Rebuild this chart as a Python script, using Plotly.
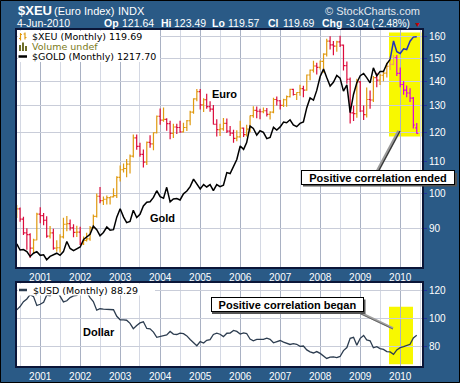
import pandas as pd
import plotly.graph_objects as go

# ---------------- data (monthly, Jun-2000 .. Jun-2010) ----------------
start_month = "2000-06-01"
end_month = "2010-06-01"

xeu_open = [93.5, 95.4, 92.5, 88.8, 88.3, 84.8, 86.9,
            93.9, 93.5, 92.2, 87.9, 88.8, 84.8, 84.9, 87.7, 91.1, 91.3, 90.1, 88.9,
            89.0, 85.9, 86.8, 87.2, 90.2, 93.3, 99.1, 97.8, 98.2, 98.7, 98.9, 99.3,
            104.9, 107.3, 107.7, 109.1, 111.8, 118.1, 115.1, 112.4, 109.8, 116.5, 116.0, 119.9,
            126.0, 124.5, 124.8, 123.2, 119.7, 122.0, 121.8, 120.2, 121.8, 124.3, 127.6, 132.7,
            135.7, 130.4, 132.4, 129.7, 128.7, 123.0, 121.0, 121.3, 123.3, 120.5, 119.8, 117.9,
            118.4, 121.6, 119.2, 121.2, 126.2, 128.2, 127.9, 127.7, 128.1, 126.7, 127.6, 132.5,
            132.0, 130.2, 132.4, 133.6, 136.6, 134.5, 135.3, 136.9, 136.3, 142.6, 144.7, 146.5,
            145.9, 148.6, 151.8, 157.9, 156.1, 155.5, 157.5, 156.0, 146.7, 140.8, 127.3, 127.0,
            139.7, 128.0, 126.6, 132.5, 132.3, 141.5, 140.4, 142.5, 143.4, 146.4, 147.2, 150.2,
            143.3, 138.6, 136.3, 135.1, 133.0, 121.64]
xeu_high = [96.5, 95.8, 93.2, 90.0, 88.7, 87.2, 94.3,
            95.9, 94.2, 93.3, 90.6, 89.9, 86.8, 88.4, 92.9, 93.4, 92.4, 91.1, 90.7,
            90.4, 87.8, 88.8, 90.6, 93.8, 99.9, 101.9, 99.0, 99.3, 98.9, 101.5, 105.2,
            108.7, 109.3, 110.8, 112.3, 119.3, 119.3, 116.4, 114.0, 116.8, 119.0, 120.1, 126.3,
            129.0, 129.3, 125.2, 124.3, 123.2, 123.2, 124.3, 123.6, 124.6, 128.1, 133.0, 136.7,
            136.7, 133.0, 134.8, 131.8, 130.3, 124.9, 123.2, 125.3, 125.1, 122.4, 121.0, 120.8,
            124.3, 121.8, 122.8, 126.3, 129.8, 129.7, 128.9, 129.3, 129.2, 127.9, 133.2, 133.7,
            132.3, 132.8, 134.1, 136.8, 136.8, 135.4, 138.5, 138.1, 142.8, 145.0, 148.8, 148.0,
            149.0, 152.2, 159.0, 160.2, 157.9, 158.1, 160.4, 156.3, 148.5, 141.5, 130.0, 141.0,
            140.1, 130.1, 137.4, 136.1, 142.2, 143.6, 143.0, 144.5, 148.0, 150.9, 151.4, 151.4,
            145.8, 140.0, 138.2, 137.0, 133.5, 123.49]
xeu_low = [92.8, 91.8, 88.2, 84.4, 82.3, 83.5, 86.8,
           91.4, 90.8, 87.5, 87.3, 84.4, 83.9, 83.7, 87.3, 89.2, 89.4, 87.6, 87.7,
           85.6, 85.6, 86.5, 86.7, 89.9, 93.0, 97.0, 96.5, 96.7, 96.7, 98.7, 98.6,
           103.6, 106.4, 104.9, 106.1, 111.3, 113.9, 111.6, 108.0, 108.8, 114.6, 113.8, 119.6,
           122.8, 123.9, 120.6, 117.6, 118.0, 119.5, 119.9, 120.0, 120.5, 122.6, 126.9, 131.8,
           128.6, 127.6, 128.9, 127.7, 122.9, 118.6, 118.7, 120.6, 119.8, 118.7, 116.4, 116.9,
           118.1, 118.4, 118.6, 120.1, 125.4, 125.2, 124.9, 127.1, 125.9, 124.8, 127.1, 130.1,
           128.6, 129.5, 129.6, 133.3, 134.1, 132.3, 134.0, 133.4, 136.0, 140.4, 143.7, 142.8,
           145.0, 143.6, 150.7, 153.9, 151.3, 152.9, 155.1, 144.5, 138.9, 123.3, 124.2, 125.4,
           127.6, 124.6, 125.5, 128.9, 131.5, 137.5, 138.4, 139.9, 141.5, 144.8, 146.8, 142.2,
           137.5, 134.4, 133.4, 131.5, 121.4, 119.57]
xeu_close = [95.4, 92.5, 88.8, 88.3, 84.8, 86.9, 93.9,
             93.5, 92.2, 87.9, 88.8, 84.8, 84.9, 87.7, 91.1, 91.3, 90.1, 88.9, 89.0,
             85.9, 86.8, 87.2, 90.2, 93.3, 99.1, 97.8, 98.2, 98.7, 98.9, 99.3, 104.9,
             107.3, 107.7, 109.1, 111.8, 118.1, 115.1, 112.4, 109.8, 116.5, 116.0, 119.9, 126.0,
             124.5, 124.8, 123.2, 119.7, 122.0, 121.8, 120.2, 121.8, 124.3, 127.6, 132.7, 135.7,
             130.4, 132.4, 129.7, 128.7, 123.0, 121.0, 121.3, 123.3, 120.5, 119.8, 117.9, 118.4,
             121.6, 119.2, 121.2, 126.2, 128.2, 127.9, 127.7, 128.1, 126.7, 127.6, 132.5, 132.0,
             130.2, 132.4, 133.6, 136.6, 134.5, 135.3, 136.9, 136.3, 142.6, 144.7, 146.5, 145.9,
             148.6, 151.8, 157.9, 156.1, 155.5, 157.5, 156.0, 146.7, 140.8, 127.3, 127.0, 139.7,
             128.0, 126.6, 132.5, 132.3, 141.5, 140.4, 142.5, 143.4, 146.4, 147.2, 150.2, 143.3,
             138.6, 136.3, 135.1, 133.0, 122.73, 119.69]

gold_close = [288, 276, 277, 273, 264, 270, 273,
              266, 267, 258, 264, 267, 270, 266, 273, 293, 279, 275, 279,
              282, 297, 302, 308, 326, 318, 305, 312, 324, 317, 318, 347,
              368, 347, 334, 337, 364, 346, 354, 375, 385, 386, 398, 417,
              400, 396, 427, 386, 394, 395, 391, 408, 416, 429, 452, 438,
              422, 435, 428, 435, 417, 435, 429, 433, 473, 470, 495, 518,
              569, 556, 583, 654, 643, 614, 633, 626, 599, 604, 648, 636,
              650, 672, 669, 683, 659, 651, 666, 673, 743, 795, 783, 838,
              923, 972, 916, 864, 887, 930, 913, 834, 871, 718, 816, 884,
              928, 942, 916, 883, 980, 927, 955, 955, 1008, 1040, 1182, 1097,
              1083, 1119, 1113, 1180, 1214, 1217.70]

usd_close = [106.5, 108.9, 112.4, 114.3, 117.4, 116.0, 109.6,
             110.5, 112.0, 117.0, 116.6, 119.4, 120.3, 116.5, 112.2, 113.0, 115.3, 116.5, 116.8,
             119.7, 119.2, 119.1, 115.2, 112.4, 106.3, 107.3, 107.0, 106.9, 106.4, 106.6, 101.9,
             99.4, 99.3, 99.1, 96.9, 93.1, 95.3, 97.2, 98.0, 93.2, 93.0, 90.6, 86.9,
             87.4, 87.6, 88.6, 91.1, 89.2, 88.9, 89.9, 89.5, 87.9, 85.3, 82.8, 80.9,
             83.8, 82.8, 84.8, 85.2, 88.9, 89.8, 89.1, 87.4, 89.8, 89.9, 91.8, 91.1,
             89.2, 90.1, 89.6, 85.7, 84.4, 85.4, 85.4, 85.4, 86.3, 85.5, 83.0, 83.7,
             84.6, 83.5, 82.8, 81.8, 82.4, 81.9, 80.4, 80.7, 77.9, 76.5, 75.7, 76.7,
             75.4, 73.6, 71.8, 72.8, 72.9, 72.4, 73.2, 77.4, 79.6, 86.2, 86.9, 81.3,
             86.2, 88.2, 85.1, 84.4, 79.4, 80.2, 78.8, 78.3, 76.7, 76.5, 74.7, 77.9,
             79.5, 80.2, 81.0, 81.9, 86.4, 88.29]

main_ticks = [90, 100, 110, 120, 130, 140, 150, 160]
usd_ticks = [80, 100, 120]

dates = pd.date_range(start_month, end_month, freq="MS")
HL = 112  # first bar inside the highlighted (Oct-2009) zone

# ---------------- geometry helpers (pixel -> paper) ----------------
W, H = 460, 383
ML, MR, MT, MB = 17, 38, 30, 17
PW, PH = W - ML - MR, H - MT - MB


def px(x):
    return (x - ML) / PW


def py(y):
    return (H - MB - y) / PH


BG = "#2a5a86"
UP, DN = "#E09A10", "#DC0C3C"
UP_H, DN_H = "#F0A060", "#DD00DD"
FONT = "Liberation Sans, Arial, sans-serif"
LFONT = "DejaVu Sans, Verdana, sans-serif"

fig = go.Figure()

fig.add_trace(go.Ohlc(x=dates[:HL], open=xeu_open[:HL], high=xeu_high[:HL],
                      low=xeu_low[:HL], close=xeu_close[:HL],
                      increasing=dict(line=dict(color=UP, width=1.2)),
                      decreasing=dict(line=dict(color=DN, width=1.2)),
                      tickwidth=0.5, xaxis="x", yaxis="y", hoverinfo="skip"))
fig.add_trace(go.Ohlc(x=dates[HL:], open=xeu_open[HL:], high=xeu_high[HL:],
                      low=xeu_low[HL:], close=xeu_close[HL:],
                      increasing=dict(line=dict(color=UP_H, width=1.2)),
                      decreasing=dict(line=dict(color=DN_H, width=1.2)),
                      tickwidth=0.5, xaxis="x", yaxis="y", hoverinfo="skip"))
fig.add_trace(go.Scatter(x=dates[:HL + 1], y=gold_close[:HL + 1], mode="lines",
                         line=dict(color="black", width=1.5), xaxis="x", yaxis="y3",
                         hoverinfo="skip"))
fig.add_trace(go.Scatter(x=dates[HL:], y=gold_close[HL:], mode="lines",
                         line=dict(color="#2233BB", width=1.5), xaxis="x", yaxis="y3",
                         hoverinfo="skip"))
fig.add_trace(go.Scatter(x=dates, y=usd_close, mode="lines",
                         line=dict(color="#2d3d50", width=1.3), xaxis="x2", yaxis="y2",
                         hoverinfo="skip"))

GRID_MAJ, GRID_MIN, FRAME = "#A9B1C3", "#D4D8E3", "#0b1638"
xcommon = dict(type="date", range=["2000-06-03", "2010-07-19"], dtick="M12",
               tick0="2001-01-01", tickformat="%Y", showgrid=True, gridcolor=GRID_MAJ,
               minor=dict(dtick="M6", tick0="2000-07-01", showgrid=True, gridcolor=GRID_MIN),
               showline=True, linecolor=FRAME, linewidth=2, mirror=True, ticks="",
               tickfont=dict(color="white", size=10, family=FONT), zeroline=False,
               fixedrange=True, automargin=False)
ycommon = dict(side="right", showgrid=True, gridcolor="#C9CDD9", showline=True,
               linecolor=FRAME, linewidth=2, mirror=True, ticks="outside", ticklen=3,
               tickcolor="#2030a0", tickfont=dict(color="white", size=10, family=FONT),
               zeroline=False, fixedrange=True, automargin=False)

main_lo, main_hi = 1.9038, 2.2128
gold_lo, gold_hi = 2.3897, 3.1057

fig.update_layout(
    width=W, height=H, margin=dict(l=ML, r=MR, t=MT, b=MB),
    paper_bgcolor=BG, plot_bgcolor="white", showlegend=False,
    font=dict(family=FONT, color="white"),
    xaxis=dict(xcommon, domain=[0, 1], anchor="y", rangeslider=dict(visible=False)),
    xaxis2=dict(xcommon, domain=[0, 1], anchor="y2", matches="x"),
    yaxis=dict(ycommon, domain=[py(267), 1], type="log", range=[main_lo, main_hi],
               tickvals=main_ticks, ticktext=[str(v) for v in main_ticks]),
    yaxis3=dict(overlaying="y", type="log", range=[gold_lo, gold_hi], visible=False,
                anchor="x", fixedrange=True),
    yaxis2=dict(ycommon, domain=[0, py(283)], range=[66.4, 125.7],
                tickvals=usd_ticks, ticktext=[str(v) for v in usd_ticks]),
)

shapes = []
# yellow highlight zones
shapes.append(dict(type="rect", xref="paper", yref="paper", x0=px(389), x1=px(421.5),
                   y0=py(136.5), y1=py(32.5), fillcolor="#F8F800", line=dict(width=0),
                   layer="between"))
shapes.append(dict(type="rect", xref="paper", yref="paper", x0=px(389), x1=px(413),
                   y0=py(364.3), y1=py(306.7), fillcolor="#F8F800", line=dict(width=0),
                   layer="between"))
# legend backgrounds (cover the data beneath the legend text)
shapes.append(dict(type="rect", xref="paper", yref="paper", x0=px(18), x1=px(160),
                   y0=py(62), y1=py(31), fillcolor="white", line=dict(width=0),
                   layer="above"))
shapes.append(dict(type="rect", xref="paper", yref="paper", x0=px(18), x1=px(155),
                   y0=py(295.5), y1=py(284), fillcolor="white", line=dict(width=0),
                   layer="above"))


def seg(x0, y0, x1, y1, color, width):
    shapes.append(dict(type="line", xref="paper", yref="paper", x0=px(x0), y0=py(y0),
                       x1=px(x1), y1=py(y1), line=dict(color=color, width=width),
                       layer="above"))


# legend icons
seg(20.5, 33, 20.5, 40.5, UP, 1.2); seg(19, 38.5, 20.5, 38.5, UP, 1); seg(20.5, 34.5, 22, 34.5, UP, 1)
seg(25, 32.5, 25, 39.5, UP, 1.2); seg(23.5, 34, 25, 34, UP, 1); seg(25, 37.5, 26.5, 37.5, UP, 1)
seg(20, 45, 20, 51, "#6E6E28", 2); seg(23, 42.5, 23, 51, "#6E6E28", 2); seg(26, 46, 26, 51, "#6E6E28", 2)
seg(18.5, 56.5, 27, 56.5, "black", 2.5)
seg(19, 290, 27, 290, "#2d3d50", 2.5)

# arrows
seg(377, 172, 399, 131, "#9a9a9a", 3.5)
seg(378, 172, 400, 131, "#333333", 1.2)
seg(358, 311.7, 393, 328.3, "#a0a0a0", 2.5)
seg(358, 312.7, 393, 329.0, "#555555", 0.8)

# callout shadows
shapes.append(dict(type="rect", xref="paper", yref="paper", x0=px(303), x1=px(457),
                   y0=py(186.5), y1=py(173), fillcolor="#555555", line=dict(width=0),
                   layer="above"))
shapes.append(dict(type="rect", xref="paper", yref="paper", x0=px(212), x1=px(365.5),
                   y0=py(314), y1=py(299.5), fillcolor="#555555", line=dict(width=0),
                   layer="above"))
# outer frame
shapes.append(dict(type="rect", xref="paper", yref="paper", x0=px(0.5), x1=px(459.5),
                   y0=py(382.5), y1=py(0.5), line=dict(color="black", width=1),
                   layer="above"))
fig.update_layout(shapes=shapes)

ann = []


def text(x, y, s, size=11, color="white", anchor="left", family=FONT, **kw):
    ann.append(dict(xref="paper", yref="paper", x=px(x), y=py(y), text=s,
                    showarrow=False, xanchor=anchor, yanchor="middle",
                    font=dict(size=size, color=color, family=family), **kw))


# header
text(16, 10.5, "<b>$XEU</b>", size=13)
text(52, 11, "(Euro Index)", size=11)
text(116, 11, "INDX", size=11)
text(422, 11, "© StockCharts.com", size=11, color="#E4E8EE", anchor="right")
text(15, 23.5, "4-Jun-2010", size=10.5)
last_o, last_h, last_l, last_c = xeu_open[-1], xeu_high[-1], xeu_low[-1], xeu_close[-1]
chg = last_c - xeu_close[-2]
pct = chg / xeu_close[-2] * 100
text(101.5, 23.5, "<b>Op</b>", size=10.5)
text(119.5, 23.5, f"{last_o:.2f}", size=10.5)
text(158.5, 23.5, "<b>Hi</b>", size=10.5)
text(171.5, 23.5, f"{last_h:.2f}", size=10.5)
text(209.5, 23.5, "<b>Lo</b>", size=10.5)
text(225.5, 23.5, f"{last_l:.2f}", size=10.5)
text(266, 23.5, "<b>Cl</b>", size=10.5)
text(280.5, 23.5, f"{last_c:.2f}", size=10.5)
text(320, 23.5, "<b>Chg</b>", size=10.5)
text(344, 23.5, f"{chg:.2f} ({pct:.2f}%)", size=10)
text(417.5, 24, "▼", size=7, color="#C80000", anchor="center")

# in-chart legends
text(29.5, 36.3, f"$XEU (Monthly) {last_c:.2f}", size=9.5, color="black", family=LFONT)
text(29.5, 46.5, "Volume undef", size=9.5, color="#7A7A20", family=LFONT)
text(29.5, 56.7, f"$GOLD (Monthly) {gold_close[-1]:.2f}", size=9.5, color="black", family=LFONT)
text(31, 290, f"$USD (Monthly) {usd_close[-1]:.2f}", size=9.5, color="black", family=LFONT)

# series labels
text(224.7, 94, "<b>Euro</b>", size=11, color="black", anchor="center")
text(162, 218.3, "<b>Gold</b>", size=11, color="black", anchor="center")
text(99, 331.7, "<b>Dollar</b>", size=11, color="black", anchor="center")

# callouts
text(378, 177.5, "<b>Positive correlation ended</b>", size=11, color="black",
     anchor="center", bgcolor="white", bordercolor="black", borderwidth=1,
     borderpad=1, width=150, height=11)
text(287, 304.5, "<b>Positive correlation began</b>", size=11, color="black",
     anchor="center", bgcolor="white", bordercolor="black", borderwidth=1,
     borderpad=1, width=149, height=11)

fig.update_layout(annotations=ann)
fig.write_html("out.html", config={"displayModeBar": False, "staticPlot": True},
               post_script="document.body.style.margin='0';document.body.style.overflow='hidden';")
